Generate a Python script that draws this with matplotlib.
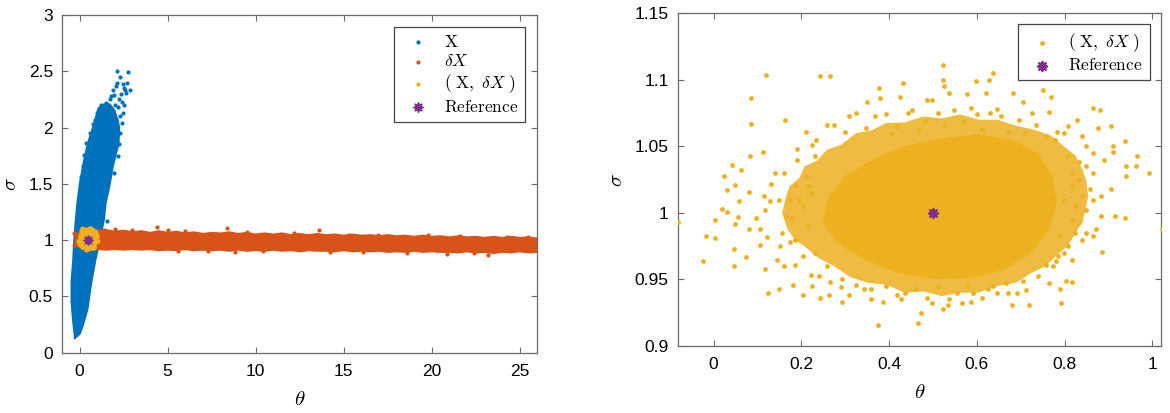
"""
Two-panel scatter: sample clouds X, dX and (X, dX) around a reference point.
Dense parts of each cloud are drawn as filled envelopes read off the picture,
the sparse points around them as individual dots.
"""

import matplotlib
matplotlib.use("Agg")
import matplotlib.pyplot as plt

plt.rcParams["font.family"] = ["Liberation Sans", "DejaVu Sans"]
plt.rcParams["mathtext.fontset"] = "cm"

BLUE, ORANGE, YELLOW, PURPLE = "#0072BD", "#D95319", "#EDB120", "#7E2F8E"

# --- X cloud (left panel): envelope of the dense part + stray points ---
x_env_theta = [-0.24, -0.34, -0.43, -0.43, -0.34, -0.28, -0.20, -0.09, 0.06, 0.18,
               0.30, 0.45, 0.58, 0.75, 0.92, 1.10, 1.40, 1.70, 1.95, 2.15, 2.22, 2.18,
               2.05, 1.85, 1.72, 1.62, 1.45, 1.36, 1.10, 0.85, 0.61, 0.42, 0.17, -0.02]
x_env_sigma = [0.14, 0.28, 0.45, 0.63, 0.81, 0.99, 1.16, 1.34, 1.52, 1.62,
               1.72, 1.83, 1.90, 1.98, 2.07, 2.17, 2.20, 2.20, 2.15, 2.05, 2.00, 1.85,
               1.78, 1.65, 1.53, 1.45, 1.33, 1.19, 0.99, 0.81, 0.60, 0.39, 0.25, 0.17]
x_pts_theta = [2.12, 2.74, 2.45, 2.06, 1.87, 2.63, 1.98, 2.40, 1.41, 1.64, 2.40, 2.49,
               0.89, 0.38, 0.27, 0.47, 1.55, 2.20, 2.30, 1.75, 2.60, 2.85, 1.20, 1.00,
               1.30, 1.50, 1.70, 1.90, 2.00, 2.25, 2.35, 2.55, 2.15, 1.80, 2.50, 2.70,
               2.30, 1.60, 2.05, 2.30, 2.25, 2.20, 1.95, 0.60, 0.75, 0.20, 0.10]
x_pts_sigma = [2.50, 2.49, 2.39, 2.37, 2.33, 2.31, 2.29, 2.23, 2.20, 2.20, 2.04, 2.13,
               2.07, 1.86, 1.76, 1.80, 1.17, 2.18, 2.10, 2.25, 2.33, 2.33, 2.20, 2.13,
               2.15, 2.22, 2.18, 2.15, 2.20, 2.25, 2.30, 2.20, 2.40, 2.28, 2.35, 2.40,
               2.45, 2.12, 2.08, 1.95, 1.85, 1.75, 1.60, 1.95, 2.03, 1.66, 1.56]

# --- dX band (left panel) ---
dx_top_theta = [-0.2, 0.2, 1.0, 1.5, 2.0, 2.5, 3.0, 3.5, 4.0, 4.5, 5.0, 5.5, 6.0, 6.5,
                7.0, 7.5, 8.0, 8.5, 9.0, 9.5, 10.0, 10.5, 11.0, 11.5, 12.0, 12.5, 13.0,
                13.5, 14.0, 14.5, 15.0, 15.5, 16.0, 16.5, 17.0, 17.5, 18.0, 18.5, 19.0,
                19.5, 20.0, 20.5, 21.0, 21.5, 22.0, 22.5, 23.0, 23.5, 24.0, 24.5, 25.0,
                25.5, 26.0]
dx_top_sigma = [1.04, 1.08, 1.08, 1.085, 1.07, 1.08, 1.065, 1.075, 1.06, 1.075, 1.06,
                1.07, 1.055, 1.065, 1.05, 1.06, 1.055, 1.065, 1.05, 1.06, 1.045, 1.055,
                1.045, 1.055, 1.04, 1.05, 1.04, 1.05, 1.04, 1.045, 1.035, 1.045, 1.035,
                1.04, 1.03, 1.04, 1.03, 1.035, 1.025, 1.035, 1.025, 1.03, 1.02, 1.03,
                1.02, 1.025, 1.015, 1.025, 1.015, 1.025, 1.015, 1.02, 1.01]
dx_bot_theta = [26.0, 25.5, 25.0, 24.5, 24.0, 23.5, 23.0, 22.5, 22.0, 21.5, 21.0, 20.5,
                20.0, 19.5, 19.0, 18.5, 18.0, 17.5, 17.0, 16.5, 16.0, 15.5, 15.0, 14.5,
                14.0, 13.5, 13.0, 12.5, 12.0, 11.5, 11.0, 10.5, 10.0, 9.5, 9.0, 8.5, 8.0,
                7.5, 7.0, 6.5, 6.0, 5.5, 5.0, 4.5, 4.0, 3.5, 3.0, 2.5, 2.0, 1.5, 1.0,
                0.2, -0.2]
dx_bot_sigma = [0.90, 0.895, 0.905, 0.895, 0.90, 0.89, 0.90, 0.895, 0.905, 0.895, 0.90,
                0.90, 0.905, 0.90, 0.91, 0.90, 0.905, 0.90, 0.91, 0.905, 0.91, 0.905,
                0.915, 0.905, 0.91, 0.91, 0.915, 0.905, 0.915, 0.91, 0.92, 0.91, 0.915,
                0.91, 0.92, 0.91, 0.92, 0.915, 0.92, 0.915, 0.925, 0.915, 0.92, 0.915,
                0.925, 0.92, 0.925, 0.92, 0.925, 0.92, 0.925, 0.93, 0.96]
dx_pts_theta = [4.41, 5.04, 8.38, 8.81, 11.45, 13.6, 23.2, 25.5, 24.3, 15.3, 6.0, 9.5,
                12.2, 16.95, 19.8, 21.6, 3.0, 2.0, 7.3, 14.2, 18.6, 22.4, 5.6, 10.4,
                16.1, 20.9, 26.0, 1.4, -0.3, -0.3]
dx_pts_sigma = [1.12, 1.094, 1.108, 0.897, 0.927, 1.094, 0.869, 1.03, 1.03, 1.05, 1.08,
                1.075, 1.065, 1.046, 1.045, 1.04, 1.09, 1.095, 0.905, 0.895, 0.885,
                0.885, 0.905, 0.90, 0.895, 0.88, 0.955, 1.09, 1.06, 0.96]

# --- (X, dX) cloud (both panels) ---
mid_theta = [0.156, 0.165, 0.173, 0.195, 0.207, 0.235, 0.258, 0.290, 0.325, 0.360,
             0.393, 0.435, 0.478, 0.520, 0.562, 0.605, 0.647, 0.690, 0.731, 0.770,
             0.799, 0.825, 0.841, 0.850, 0.854, 0.848, 0.841, 0.825, 0.807, 0.785,
             0.757, 0.725, 0.689, 0.645, 0.604, 0.560, 0.520, 0.478, 0.435, 0.395,
             0.351, 0.310, 0.275, 0.240, 0.207, 0.185, 0.169]
mid_sigma = [1.000, 1.012, 1.020, 1.026, 1.035, 1.039, 1.0475, 1.051, 1.060, 1.062,
             1.0675, 1.068, 1.0725, 1.071, 1.074, 1.070, 1.070, 1.0655, 1.0625, 1.058,
             1.050, 1.043, 1.0325, 1.024, 1.0125, 1.003, 0.9925, 0.985, 0.975, 0.969,
             0.960, 0.955, 0.9475, 0.945, 0.940, 0.940, 0.9375, 0.941, 0.940, 0.946,
             0.9475, 0.952, 0.960, 0.966, 0.975, 0.980, 0.9875]
core_theta = [0.249, 0.262, 0.300, 0.359, 0.435, 0.520, 0.604, 0.680, 0.740, 0.773,
              0.782, 0.765, 0.723, 0.664, 0.587, 0.503, 0.418, 0.342, 0.283]
core_sigma = [0.9925, 1.0125, 1.0275, 1.040, 1.050, 1.056, 1.059, 1.055, 1.045, 1.0275,
              1.0075, 0.9875, 0.970, 0.9575, 0.951, 0.950, 0.955, 0.965, 0.9775]
xy_pts_theta = [
    0.120, 0.243, 0.265, 0.522, 0.524, 0.526, 0.636, 0.628, 0.598, 0.536, 0.431, 0.376,
    0.379, 0.425, 0.486, 0.497, 0.349, 0.751, 0.769, 0.682, 0.622, 0.645, 0.577, 0.587,
    0.706, 0.864, 0.882, 0.828, 0.726, 0.258, 0.163, 0.211, 0.309, 0.444, 0.765, 0.807,
    0.782, 0.234, 0.190, 0.224,
    0.085, 0.085, 0.084, 0.112, 0.023, 0.041, 0.062, 0.080, 0.030, 0.049, 0.018, 0.031,
    0.057, 0.055, 0.048, 0.002, 0.004, -0.018, -0.025, -0.082, 0.047, 0.047, 0.073,
    0.080, 0.106, 0.106, 0.121, 0.096, 0.118, 0.114, 0.139, 0.131, 0.129, 0.118, 0.144,
    0.123, 0.148, 0.161, 0.178, 0.156, 0.173, 0.152, 0.161, 0.186, 0.180, 0.203, 0.224,
    0.222, 0.242, 0.262, 0.292, 0.309, 0.290, 0.266, 0.194, 0.186, 0.148, 0.216,
    0.374, 0.467, 0.473, 0.387, 0.417, 0.437, 0.499, 0.537, 0.566, 0.587, 0.592, 0.626,
    0.666, 0.719, 0.793, 0.790, 0.780, 0.804, 0.817, 0.692, 0.713, 0.647, 0.524, 0.342,
    0.359, 0.680, 0.535,
    0.992, 0.966, 0.941, 0.941, 0.939, 0.911, 0.910, 0.907, 0.915, 0.939, 0.883, 0.883,
    0.871, 0.866, 0.885, 0.864, 0.889, 0.841, 0.850, 0.833, 0.816, 0.841, 0.824, 0.824,
    0.850, 0.807, 0.816, 0.786, 0.757, 0.858, 1.023, 0.963, 0.905, 0.877, 0.866,
    # ring just outside the dense part
    0.275, 0.300, 0.325, 0.347, 0.368, 0.393, 0.406, 0.418, 0.452, 0.465, 0.482, 0.511,
    0.528, 0.549, 0.571, 0.600, 0.613, 0.630, 0.655, 0.672, 0.697, 0.710, 0.735, 0.757,
    0.778, 0.799,
    0.190, 0.211, 0.232, 0.173, 0.203, 0.224, 0.165, 0.216, 0.186, 0.232, 0.203, 0.258,
    0.241, 0.292,
    0.325, 0.359, 0.393, 0.427, 0.461, 0.486, 0.511, 0.554, 0.579, 0.613, 0.638, 0.672,
    0.706, 0.740, 0.765,
    0.807, 0.816, 0.833, 0.799, 0.850, 0.816, 0.841, 0.790, 0.799, 0.773, 0.850, 0.866]
xy_pts_sigma = [
    1.104, 1.103, 1.103, 1.111, 1.100, 1.095, 1.105, 1.100, 1.099, 1.090, 1.098, 1.094,
    1.086, 1.087, 1.085, 1.085, 1.083, 1.092, 1.087, 1.090, 1.090, 1.078, 1.089, 1.079,
    1.083, 1.079, 1.077, 1.070, 1.075, 1.066, 1.070, 1.061, 1.073, 1.075, 1.076, 1.065,
    1.061, 1.055, 1.048, 1.051,
    1.086, 1.067, 1.043, 1.046, 1.028, 1.036, 1.032, 1.016, 1.017, 1.021, 1.003, 1.001,
    1.009, 0.997, 0.992, 0.995, 0.981, 0.983, 0.964, 0.993, 0.973, 0.960, 0.967,
    0.988, 0.988, 0.976, 0.982, 0.996, 1.002, 1.013, 1.030, 1.022, 1.009, 0.958, 0.965,
    0.940, 0.943, 1.030, 0.996, 0.985, 0.978, 0.975, 0.960, 0.961, 0.946, 0.938, 0.945,
    0.953, 0.936, 0.938, 0.933, 0.938, 0.944, 0.948, 1.010, 1.020, 1.010, 1.020,
    0.916, 0.917, 0.925, 0.933, 0.938, 0.940, 0.932, 0.935, 0.932, 0.933, 0.940, 0.943,
    0.947, 0.931, 0.932, 0.943, 0.964, 0.949, 0.948, 0.940, 0.942, 0.940, 0.928, 0.943,
    0.935, 0.931, 0.931,
    1.030, 1.043, 1.028, 1.035, 1.054, 1.050, 1.046, 1.018, 0.998, 0.996, 1.013, 0.998,
    0.988, 0.983, 0.971, 1.010, 1.040, 1.058, 1.050, 1.038, 1.020, 1.013, 1.005, 0.985,
    0.985, 0.975, 0.965, 0.968, 0.961, 1.018, 0.988, 1.035, 1.065, 1.064, 1.030,
    1.066, 1.061, 1.075, 1.064, 1.0725, 1.074, 1.060, 1.065, 1.0775, 1.0625, 1.069, 1.075,
    1.066, 1.0775, 1.069, 1.074, 1.0625, 1.075, 1.0725, 1.061, 1.070, 1.060, 1.066, 1.0575,
    1.055, 1.060,
    1.040, 1.0275, 1.0425, 1.010, 1.005, 1.015, 0.9975, 0.990, 0.980, 0.970, 0.9675, 0.960,
    0.9525, 0.950,
    0.946, 0.9425, 0.945, 0.935, 0.9425, 0.936, 0.944, 0.940, 0.945, 0.936, 0.945, 0.940,
    0.949, 0.9525, 0.9475,
    1.0425, 1.030, 1.025, 1.010, 1.0025, 0.995, 0.980, 0.9825, 0.970, 0.960, 1.035, 1.045]

ref_theta, ref_sigma = [0.5], [1.0]

TICK_FS, LABEL_FS, LEG_FS = 12.5, 15, 12.5
DOT_L, DOT_R = 9, 12
REF_MARK = (8, 1, 0)


def style_axes(ax):
    for sp in ax.spines.values():
        sp.set_color("#6a6a6a")
        sp.set_linewidth(0.9)
    ax.tick_params(direction="in", top=True, right=True, length=4, width=0.8,
                   color="#6a6a6a", labelsize=TICK_FS)
    ax.tick_params(axis="x", pad=8)
    ax.tick_params(axis="y", pad=6.5)
    ax.set_xlabel(r"$\theta$", fontsize=LABEL_FS, labelpad=8)
    ax.set_ylabel(r"$\sigma$", fontsize=LABEL_FS, labelpad=6)


def draw_xy_cloud(ax, dot):
    ax.fill(mid_theta, mid_sigma, color=YELLOW, alpha=0.85, lw=0, zorder=3)
    ax.fill(core_theta, core_sigma, color=YELLOW, lw=0, zorder=3)
    return ax.scatter(xy_pts_theta, xy_pts_sigma, s=dot, color=YELLOW, lw=0, zorder=3,
                      label=r"$(\ \mathrm{X},\ \delta X\ )$")


def legend(ax, handles, anchor):
    leg = ax.legend(handles=handles, loc="upper right", bbox_to_anchor=anchor,
                    borderaxespad=0, fancybox=False, framealpha=1, fontsize=LEG_FS,
                    handlelength=2.0, handletextpad=0.5, labelspacing=0.2,
                    borderpad=0.4, markerscale=1.0)
    leg.get_frame().set_edgecolor("#444444")
    leg.get_frame().set_linewidth(0.9)


fig = plt.figure(figsize=(11.7, 4.13), dpi=100)
ax1 = fig.add_axes([0.0530, 0.1460, 0.4062, 0.8177])
ax2 = fig.add_axes([0.5792, 0.1622, 0.4131, 0.8056])

# left panel
ax1.fill(x_env_theta, x_env_sigma, color=BLUE, ec=BLUE, lw=2.2, zorder=1)
h_x = ax1.scatter(x_pts_theta, x_pts_sigma, s=DOT_L, color=BLUE, lw=0, zorder=1,
                  label=r"$\mathrm{X}$")
ax1.fill(dx_top_theta + dx_bot_theta, dx_top_sigma + dx_bot_sigma, color=ORANGE,
         ec=ORANGE, lw=2.2, zorder=2)
h_dx = ax1.scatter(dx_pts_theta, dx_pts_sigma, s=DOT_L, color=ORANGE, lw=0, zorder=2,
                   label=r"$\delta X$")
h_xy = draw_xy_cloud(ax1, DOT_L)
h_ref = ax1.scatter(ref_theta, ref_sigma, s=45, marker=REF_MARK, color=PURPLE,
                    ec=PURPLE, lw=1.2, zorder=4, label=r"$\mathrm{Reference}$")
ax1.set_xlim(-1, 26)
ax1.set_ylim(0, 3)
ax1.set_xticks([0, 5, 10, 15, 20, 25])
ax1.set_yticks([0, 0.5, 1, 1.5, 2, 2.5, 3])
ax1.set_yticklabels(["0", "0.5", "1", "1.5", "2", "2.5", "3"])
style_axes(ax1)
legend(ax1, [h_x, h_dx, h_xy, h_ref], (0.975, 0.965))

# right panel
h_xy2 = draw_xy_cloud(ax2, DOT_R)
h_ref2 = ax2.scatter(ref_theta, ref_sigma, s=50, marker=REF_MARK, color=PURPLE,
                     ec=PURPLE, lw=1.4, zorder=4, label=r"$\mathrm{Reference}$")
ax2.set_xlim(-0.082, 1.02)
ax2.set_ylim(0.9, 1.15)
ax2.set_xticks([0, 0.2, 0.4, 0.6, 0.8, 1])
ax2.set_xticklabels(["0", "0.2", "0.4", "0.6", "0.8", "1"])
ax2.set_yticks([0.9, 0.95, 1, 1.05, 1.1, 1.15])
ax2.set_yticklabels(["0.9", "0.95", "1", "1.05", "1.1", "1.15"])
style_axes(ax2)
legend(ax2, [h_xy2, h_ref2], (0.977, 0.967))

fig.savefig("out.png", dpi=100)
